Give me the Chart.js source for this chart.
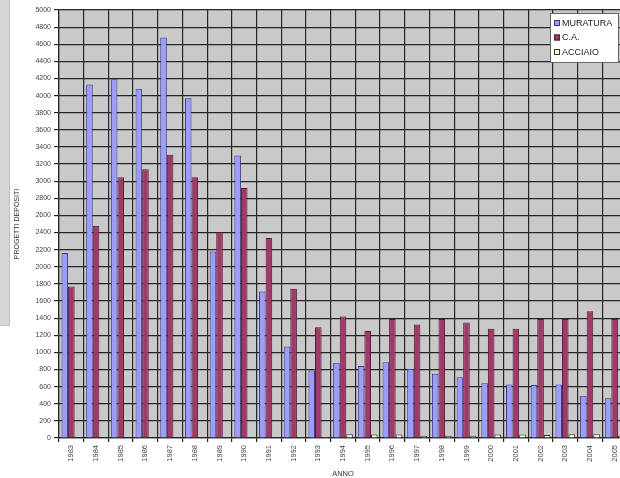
<!DOCTYPE html>
<html>
<head>
<meta charset="utf-8">
<script src="https://cdn.jsdelivr.net/npm/chart.js@4/dist/chart.umd.min.js"></script>
<style>
  html, body { margin: 0; padding: 0; background: #ffffff; overflow: hidden; width: 620px; height: 478px; }
  #wrap { position: relative; width: 620px; height: 478px; overflow: hidden; }
  #side { position: absolute; left: 0; top: 0; width: 9px; height: 325px; background: #d6d6d6; border-right: 1px solid #bdbdbd; border-bottom: 1px solid #bdbdbd; }
  canvas { position: absolute; left: 0; top: 0; }
</style>
</head>
<body>
<div id="wrap">
  <div id="side"></div>
  <canvas id="c" width="628" height="478"></canvas>
</div>
<script>
// Progetti depositati per anno e per tipologia strutturale
const anni = ['1983','1984','1985','1986','1987','1988','1989','1990','1991','1992','1993','1994',
              '1995','1996','1997','1998','1999','2000','2001','2002','2003','2004','2005'];
const muratura = [2160, 4130, 4190, 4080, 4680, 3970, 2180, 3300, 1710, 1070, 790, 880,
                  840, 885, 810, 750, 710, 640, 625, 620, 625, 495, 465];
const cementoArmato = [1770, 2480, 3045, 3140, 3310, 3045, 2405, 2920, 2335, 1745, 1295, 1420,
                       1250, 1390, 1325, 1390, 1350, 1275, 1275, 1390, 1390, 1480, 1390];
const acciaio = [4, 4, 4, 4, 4, 4, 4, 4, 6, 8, 12, 45,
                 40, 40, 25, 25, 25, 40, 40, 35, 45, 45, 25];
const yMax = 5000;
const yStep = 200;

const serie = [
  { label: 'MURATURA', data: muratura, fill: '#9c9cfa', border: '#3a3a8c' },
  { label: 'C.A.', data: cementoArmato, fill: '#9e3a68', border: '#5a1838' },
  { label: 'ACCIAIO', data: acciaio, fill: '#ffffd8', border: '#333333' }
];

// sfondo grigio dell'area del grafico
const plotBackground = {
  id: 'plotBackground',
  beforeDraw(chart) {
    const { ctx, chartArea: a } = chart;
    ctx.save();
    ctx.fillStyle = '#c9c9c9';
    ctx.fillRect(a.left, a.top, a.right - a.left, a.bottom - a.top);
    ctx.restore();
  }
};

// legenda in riquadro sopra l'area del grafico, in alto a destra
const boxedLegend = {
  id: 'boxedLegend',
  afterDraw(chart) {
    const { ctx, chartArea: a } = chart;
    const x = a.right - 77, y = a.top + 3, w = 68, h = 49;
    ctx.save();
    ctx.fillStyle = '#ffffff';
    ctx.fillRect(x, y, w, h);
    ctx.strokeStyle = '#666666';
    ctx.lineWidth = 1;
    ctx.strokeRect(x + 0.5, y + 0.5, w, h);
    ctx.font = '9px "Liberation Sans", Arial, sans-serif';
    ctx.textBaseline = 'middle';
    chart.data.datasets.forEach((ds, i) => {
      const cy = y + 10 + i * 14.5;
      ctx.fillStyle = ds.backgroundColor;
      ctx.fillRect(x + 4, cy - 3, 6, 6);
      ctx.strokeStyle = ds.borderColor;
      ctx.strokeRect(x + 4.5, cy - 2.5, 5, 5);
      ctx.fillStyle = '#222222';
      ctx.fillText(ds.label, x + 12, cy + 0.5);
    });
    ctx.restore();
  }
};

new Chart(document.getElementById('c'), {
  type: 'bar',
  data: {
    labels: anni,
    datasets: serie.map(s => ({
      label: s.label,
      data: s.data,
      backgroundColor: s.fill,
      borderColor: s.border,
      borderWidth: 1,
      borderSkipped: 'bottom',
      barPercentage: 1.0,
      categoryPercentage: 0.8
    }))
  },
  options: {
    responsive: false,
    animation: false,
    layout: { padding: { top: 10, right: 1, left: 0, bottom: 0 } },
    plugins: {
      legend: { display: false },
      tooltip: { enabled: false }
    },
    scales: {
      x: {
        grid: { color: '#262626', lineWidth: 1.2, offset: true, tickLength: 4, drawTicks: true },
        border: { color: '#262626', width: 1.2 },
        ticks: {
          minRotation: 90, maxRotation: 90, autoSkip: false,
          color: '#444444', padding: 3,
          font: { family: '"Liberation Sans", Arial, sans-serif', size: 7.5 }
        },
        title: {
          display: true, text: 'ANNO', color: '#333333',
          padding: { top: 0, bottom: 0 },
          font: { family: '"Liberation Sans", Arial, sans-serif', size: 7.5 }
        },
        afterFit(s) { s.height = 40; }
      },
      y: {
        min: 0, max: yMax,
        grid: { color: '#262626', lineWidth: 1.2, tickLength: 5 },
        border: { color: '#262626', width: 1.2 },
        ticks: {
          stepSize: yStep, autoSkip: false,
          color: '#444444', padding: 3,
          callback: v => String(v),
          font: { family: '"Liberation Sans", Arial, sans-serif', size: 7 }
        },
        title: {
          display: true, text: 'PROGETTI DEPOSITI', color: '#333333',
          padding: { top: 13, bottom: 0 },
          font: { family: '"Liberation Sans", Arial, sans-serif', size: 7 }
        },
        afterFit(s) { s.width = 59; }
      }
    }
  },
  plugins: [plotBackground, boxedLegend]
});
</script>
</body>
</html>
